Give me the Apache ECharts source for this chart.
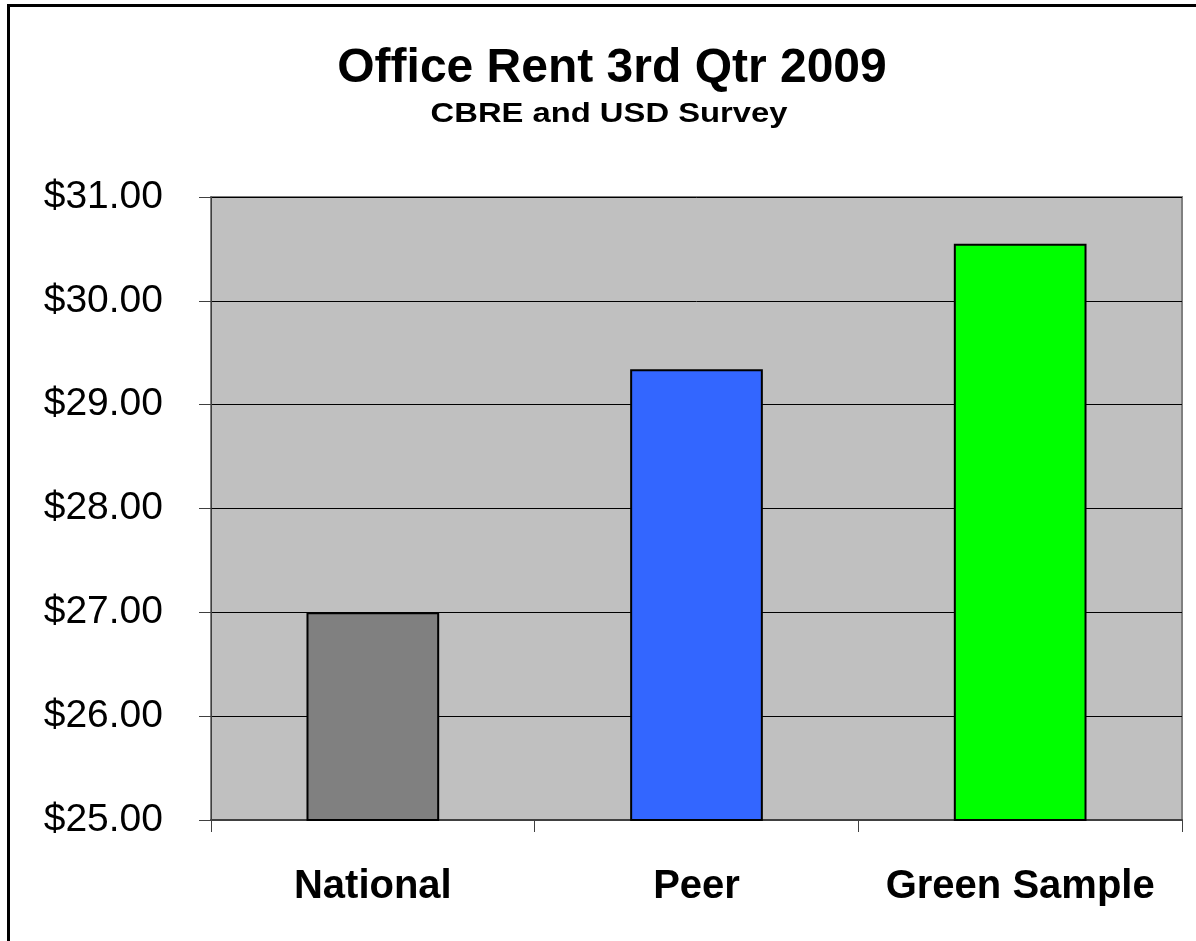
<!DOCTYPE html>
<html>
<head>
<meta charset="utf-8">
<script src="https://cdn.jsdelivr.net/npm/echarts@6/dist/echarts.min.js"></script>
<style>
html, body { margin: 0; padding: 0; background: #fff; }
#frame { position: absolute; left: 7px; top: 4px; width: 1300px; height: 1100px;
  border-left: 3px solid #000; border-top: 3px solid #000; }
#main { position: absolute; left: 0; top: 0; width: 1196px; height: 941px; }
</style>
</head>
<body>
<div id="frame"></div>
<div id="main"></div>
<script>
var categories = ['National', 'Peer', 'Green Sample'];
var rents = [27.00, 29.34, 30.55];
var barColors = ['#808080', '#3366ff', '#00ff00'];
var yMin = 25, yMax = 31, yStep = 1;
var titleText = 'Office Rent 3rd Qtr 2009';
var subText = 'CBRE and USD Survey';

var myChart = echarts.init(document.getElementById('main'));

var data = [];
for (var i = 0; i < rents.length; i++) {
	data.push({ value: rents[i], itemStyle: { color: barColors[i] } });
}

var option = {
	animation: false,
	textStyle: { fontFamily: 'Liberation Sans, Arial, sans-serif' },
	title: {
		text: titleText,
		left: 607,
		textAlign: 'center',
		top: 40,
		textStyle: { fontSize: 48, fontWeight: 'bold', color: '#000', fontFamily: 'Liberation Sans' }
	},
	// subtitle is a bit wider spaced in the original, stretch it slightly
	graphic: [{
		type: 'text',
		x: 609, y: 100, scaleX: 1.17,
		style: { text: subText, font: 'bold 28px "Liberation Sans"', fill: '#000', textAlign: 'center', textVerticalAlign: 'top' }
	}],
	grid: {
		left: 211, right: 14, top: 197, bottom: 121,
		show: true,
		backgroundColor: '#c0c0c0',
		borderColor: '#808080',
		borderWidth: 2
	},
	xAxis: {
		type: 'category',
		data: categories,
		axisLine: { lineStyle: { color: '#404040', width: 2 } },
		axisTick: { show: true, length: 12, lineStyle: { color: '#404040' } },
		axisLabel: { interval: 0, margin: 47, fontSize: 40, fontWeight: 'bold', color: '#000', fontFamily: 'Liberation Sans' }
	},
	yAxis: {
		type: 'value',
		min: yMin, max: yMax, interval: yStep,
		axisLine: { show: true, lineStyle: { color: '#404040', width: 1 } },
		axisTick: { show: true, length: 12, lineStyle: { color: '#404040' } },
		splitLine: { lineStyle: { color: '#000', width: 1 } },
		axisLabel: {
			margin: 48, fontSize: 39, color: '#000', fontFamily: 'Liberation Sans',
			formatter: function (v) { return '$' + v.toFixed(2); }
		}
	},
	series: [{
		type: 'bar',
		data: data,
		barWidth: '41%',
		itemStyle: { borderColor: '#000', borderWidth: 2 }
	}]
};
myChart.setOption(option);
</script>
</body>
</html>
